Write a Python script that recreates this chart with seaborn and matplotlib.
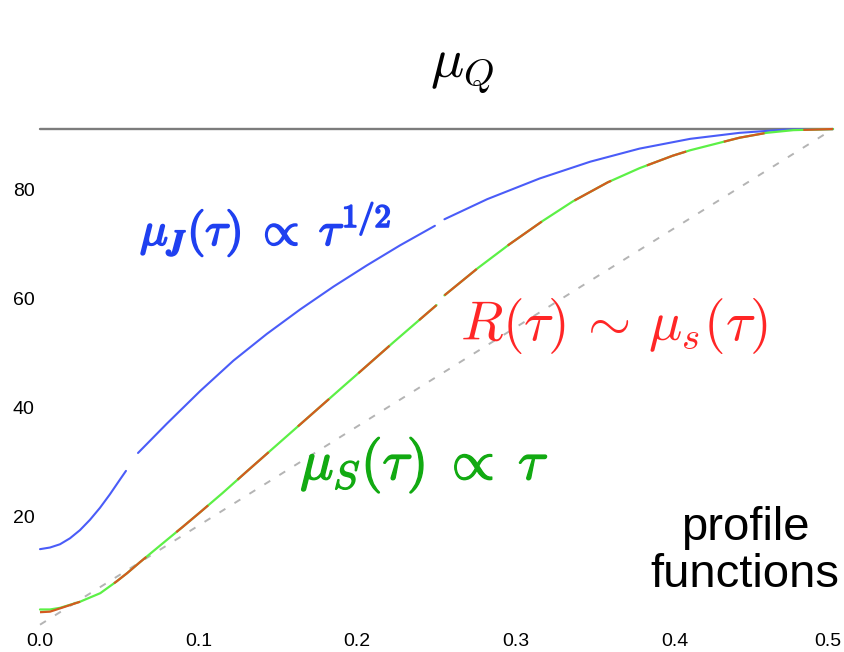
import matplotlib
matplotlib.use("Agg")
import matplotlib.pyplot as plt
import matplotlib.patheffects as pe
import matplotlib.transforms as mtransforms
import numpy as np
import pandas as pd
import seaborn as sns

# ---- profile function values (tau, mu in GeV) ----
mu_Q = 91.2

# jet scale mu_J(tau): three pieces of the piecewise profile
jet_tau_1 = [0.0, 0.0063, 0.0126, 0.0189, 0.0252, 0.0315, 0.0378, 0.0441, 0.0504, 0.0542]
jet_mu_1 = [13.9, 14.2, 14.8, 15.9, 17.4, 19.3, 21.5, 24.0, 26.7, 28.3]
jet_tau_2 = [0.0618, 0.080, 0.101, 0.122, 0.143, 0.164, 0.185, 0.206, 0.227, 0.249]
jet_mu_2 = [31.6, 37.0, 43.0, 48.6, 53.5, 58.0, 62.2, 66.1, 69.8, 73.4]
jet_tau_3 = [0.255, 0.282, 0.315, 0.347, 0.378, 0.410, 0.441, 0.470, 0.50]
jet_mu_3 = [74.6, 78.3, 82.1, 85.2, 87.6, 89.4, 90.5, 91.1, 91.2]

# soft scale mu_S(tau)
soft_tau_1 = [0.0, 0.0063, 0.0126, 0.025, 0.038, 0.048, 0.055, 0.063, 0.080, 0.090,
              0.101, 0.115, 0.130, 0.151, 0.172, 0.193, 0.202, 0.223, 0.250]
soft_mu_1 = [2.8, 2.8, 3.1, 4.2, 5.8, 7.9, 9.5, 11.5, 15.6, 18.0,
             20.7, 24.2, 28.1, 33.5, 38.9, 44.3, 46.6, 52.0, 58.8]
soft_tau_2 = [0.255, 0.276, 0.296, 0.317, 0.336, 0.358, 0.378, 0.399, 0.410,
              0.441, 0.458, 0.475, 0.50]
soft_mu_2 = [60.6, 65.6, 70.0, 74.3, 77.9, 81.4, 84.0, 86.3, 87.3,
             89.6, 90.5, 91.0, 91.2]

# non-singular scale R(tau) ~ mu_s(tau): differs only near tau = 0
r_mu_1 = [2.3, 2.4, 3.0, 4.2, 5.8, 7.9, 9.5, 11.5, 15.6, 18.0,
          20.7, 24.2, 28.1, 33.5, 38.9, 44.3, 46.6, 52.0, 58.8]
r_mu_2 = soft_mu_2

# reference straight line 2 mu_Q tau
ref_tau = [0.0, 0.5]
ref_mu = [0.0, 91.2]

x_ticks = [0.0, 0.1, 0.2, 0.3, 0.4, 0.5]
x_tick_labels = ["0.0", "0.1", "0.2", "0.3", "0.4", "0.5"]
y_ticks = [20, 40, 60, 80]
y_tick_labels = ["20", "40", "60", "80"]


def pieces(taus, mus):
    rows = []
    for k, (t, m) in enumerate(zip(taus, mus)):
        rows += [{"tau": a, "mu": b, "piece": k} for a, b in zip(t, m)]
    return pd.DataFrame(rows)


jet = pieces([jet_tau_1, jet_tau_2, jet_tau_3], [jet_mu_1, jet_mu_2, jet_mu_3])
soft = pieces([soft_tau_1, soft_tau_2], [soft_mu_1, soft_mu_2])
nons = pieces([soft_tau_1, soft_tau_2], [r_mu_1, r_mu_2])
ref = pd.DataFrame({"tau": ref_tau, "mu": ref_mu})
hard = pd.DataFrame({"tau": [0.0, 0.5], "mu": [mu_Q, mu_Q]})

sns.set_theme(style="white")
plt.rcParams["mathtext.fontset"] = "cm"
plt.rcParams["lines.scale_dashes"] = False

fig = plt.figure(figsize=(8.44, 6.52), dpi=100)
ax = fig.add_axes([40 / 844, 27.3 / 652, 793 / 844, 500 / 652])

sns.lineplot(data=hard, x="tau", y="mu", color="#7c7c7c", linewidth=1.7, ax=ax)
sns.lineplot(data=ref, x="tau", y="mu", color="#b4b4b4", linewidth=1.4,
             linestyle=(0, (5, 7.7)), ax=ax)
sns.lineplot(data=jet, x="tau", y="mu", units="piece", estimator=None,
             color="#4a5cf8", linewidth=1.5, ax=ax)
sns.lineplot(data=soft, x="tau", y="mu", units="piece", estimator=None,
             color="#5cf046", linewidth=1.6, ax=ax)
sns.lineplot(data=nons, x="tau", y="mu", units="piece", estimator=None,
             color="#d35a20", linewidth=1.6, linestyle=(0, (30, 28)), ax=ax)

for ln in ax.get_lines():
    ln.set_clip_on(False)

ax.set_xlim(0, 0.5)
ax.set_ylim(0, 92)
ax.set_xticks(x_ticks)
ax.set_xticklabels(x_tick_labels)
ax.set_yticks(y_ticks)
ax.set_yticklabels(y_tick_labels)
ax.tick_params(axis="both", length=0, labelsize=14, colors="black")
ax.tick_params(axis="x", pad=6)
ax.tick_params(axis="y", pad=4)
for lab in ax.get_xticklabels() + ax.get_yticklabels():
    lab.set_family("Liberation Sans")
# keep the last tick label inside the canvas
last = ax.get_xticklabels()[-1]
last.set_transform(last.get_transform() +
                   mtransforms.ScaledTranslation(-5 / 100, 0, fig.dpi_scale_trans))
ax.set_xlabel("")
ax.set_ylabel("")
sns.despine(ax=ax, left=True, bottom=True)

ax.text(0.246, 100.8, r"$\mu_Q$", fontsize=40, color="black",
        ha="left", va="baseline", clip_on=False)
ax.text(0.063, 69.9, r"$\mu_{\boldsymbol{J}}(\tau)\;\propto\;\tau^{\mathbf{1/2}}$",
        fontsize=33.5, color="#1f40f0", ha="left", va="baseline",
        path_effects=[pe.withStroke(linewidth=1.3, foreground="#1f40f0")])
ax.text(0.265, 52.4, r"$R(\tau)\,\sim\,\mu_s(\tau)$", fontsize=40,
        color="#ff2626", ha="left", va="baseline")
ax.text(0.164, 26.8, r"$\mu_S(\tau)\;\propto\;\tau$", fontsize=40,
        color="#12aa12", ha="left", va="baseline",
        path_effects=[pe.withStroke(linewidth=1.0, foreground="#12aa12")])
ax.text(0.4445, 15.6, "profile", fontsize=34, family="Liberation Sans",
        color="black", ha="center", va="baseline")
ax.text(0.4445, 6.9, "functions", fontsize=34, family="Liberation Sans",
        color="black", ha="center", va="baseline", clip_on=False)

fig.savefig("out.png", dpi=100)
